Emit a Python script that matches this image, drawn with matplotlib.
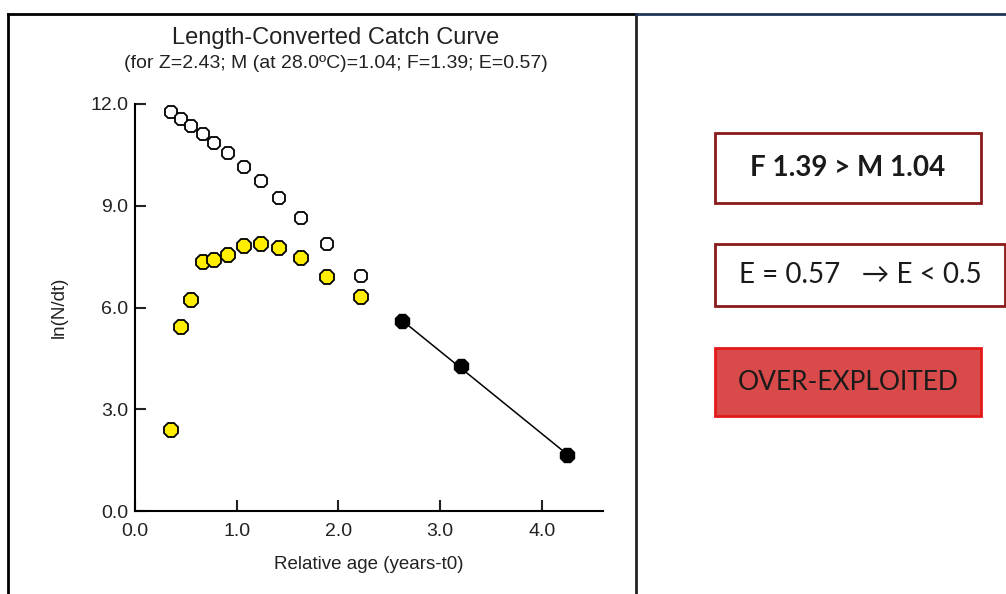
import numpy as np
import matplotlib
matplotlib.use("Agg")
import matplotlib.pyplot as plt
from matplotlib.patches import Rectangle
from matplotlib.lines import Line2D

# relative age (years - t0) of the length classes
age = [0.35, 0.45, 0.55, 0.67, 0.78, 0.915, 1.07, 1.235, 1.42, 1.63, 1.89, 2.22]
# ln(N/dt), open points (expected) and yellow points (observed)
ln_open = [11.76, 11.55, 11.35, 11.12, 10.84, 10.55, 10.14, 9.72, 9.23, 8.64, 7.87, 6.92]
ln_obs = [2.38, 5.42, 6.21, 7.34, 7.39, 7.56, 7.82, 7.87, 7.75, 7.46, 6.89, 6.31]
# points used for the regression
age_reg = [2.62, 3.20, 4.25]
ln_reg = [5.60, 4.27, 1.65]

title = "Length-Converted Catch Curve"
subtitle = "(for Z=2.43; M (at 28.0ºC)=1.04; F=1.39; E=0.57)"
xticks = [0.0, 1.0, 2.0, 3.0, 4.0]
yticks = [0.0, 3.0, 6.0, 9.0, 12.0]

W, H = 1006, 594


def fx(px):
    return px / W


def fy(py):
    return 1 - py / H


fig = plt.figure(figsize=(W / 100, H / 100), dpi=100)
plt.rcParams['font.family'] = ['Liberation Sans', 'DejaVu Sans']

ax = fig.add_axes([fx(135), fy(511), fx(603) - fx(135), fy(104) - fy(511)])
ax.set_xlim(0, 4.6)
ax.set_ylim(0, 12)

# regression line through the black points
coef = np.polyfit(age_reg, ln_reg, 1)
xl = np.array([age_reg[0], age_reg[-1]])
ax.plot(xl, np.polyval(coef, xl), color='black', lw=1.1, zorder=2)

ax.plot(age, ln_open, ls='none', marker='8', ms=10, mfc='white', mec='black', mew=1.3, zorder=3)
ax.plot(age, ln_obs, ls='none', marker='8', ms=10.5, mfc='#ffee00', mec='black', mew=1.3, zorder=4)
ax.plot(age_reg, ln_reg, ls='none', marker='8', ms=10.5, mfc='black', mec='black', zorder=4)

ax.spines['top'].set_visible(False)
ax.spines['right'].set_visible(False)
for s in ['left', 'bottom']:
    ax.spines[s].set_linewidth(1.5)
ax.set_xticks(xticks)
ax.set_yticks(yticks)
ax.set_xticklabels([f"{v:.1f}" for v in xticks])
ax.set_yticklabels([f"{v:.1f}" for v in yticks])
ax.tick_params(direction='in', length=8, width=1.5, labelsize=14, colors='#222222')
ax.tick_params(axis='x', pad=9)
ax.tick_params(axis='y', pad=5)
ax.set_xlabel("Relative age (years-t0)", fontsize=13.5, color='#222222', labelpad=11)
ax.set_ylabel("ln(N/dt)", fontsize=13.5, color='#222222', labelpad=16)

fig.text(fx(336), fy(38), title, fontsize=17, ha='center', va='center', color='#222222')
fig.text(fx(336), fy(63), subtitle, fontsize=14, ha='center', va='center', color='#222222')

# panel frame lines
fig.add_artist(Line2D([fx(8), fx(8)], [0, fy(14)], color='black', lw=2))
fig.add_artist(Line2D([fx(8), fx(636)], [fy(14), fy(14)], color='black', lw=2))
fig.add_artist(Line2D([fx(636), fx(636)], [0, fy(14)], color='#222222', lw=2))
fig.add_artist(Line2D([fx(636), 1], [fy(14), fy(14)], color='#1f3556', lw=2))

# verdict boxes
boxes = [
    (715, 133, 981, 203, "F 1.39 > M 1.04", 'bold', 20, 'white', '#8b1a1a'),
    (715, 244, 1005, 306, "E = 0.57   → E < 0.5", 'normal', 20, 'white', '#8b1a1a'),
    (715, 348, 981, 416, "OVER-EXPLOITED", 'normal', 19, '#d94a4a', '#e41a1a'),
]
for x0, y0, x1, y1, txt, wt, sz, fc, ec in boxes:
    fig.add_artist(Rectangle((fx(x0), fy(y1)), fx(x1) - fx(x0), fy(y0) - fy(y1),
                             transform=fig.transFigure, facecolor=fc, edgecolor=ec, lw=2))
    fig.text(fx((x0 + x1) / 2), fy((y0 + y1) / 2), txt, fontsize=sz, fontweight=wt,
             ha='center', va='center', color='#1a1a1a', family=['Lato', 'DejaVu Sans'])

fig.savefig("out.png", dpi=100)
